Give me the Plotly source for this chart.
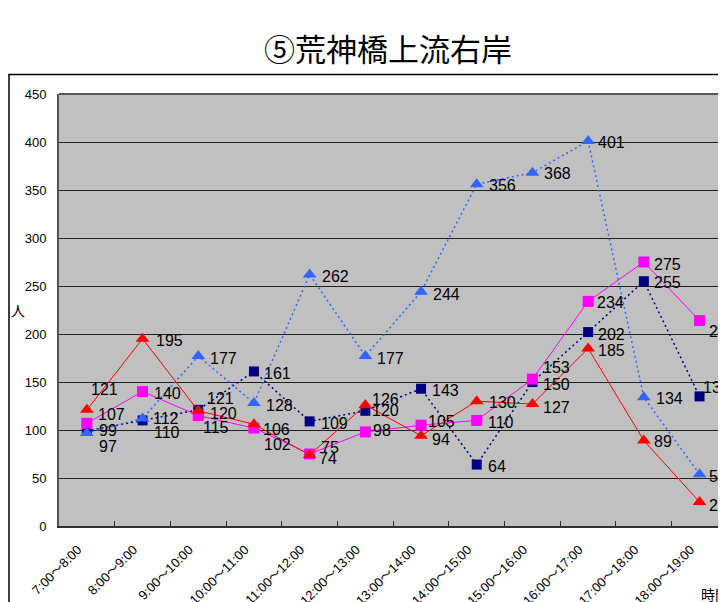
import plotly.graph_objects as go

# ---- data ----
categories = ["7:00～8:00", "8:00～9:00", "9:00～10:00", "10:00～11:00", "11:00～12:00",
              "12:00～13:00", "13:00～14:00", "14:00～15:00", "15:00～16:00",
              "16:00～17:00", "17:00～18:00", "18:00～19:00"]
red_values = [121, 195, 120, 106, 74, 126, 94, 130, 127, 185, 89, 25]
magenta_values = [107, 140, 115, 102, 75, 98, 105, 110, 153, 234, 275, 214]
navy_values = [99, 110, 121, 161, 109, 120, 143, 64, 150, 202, 255, 135]
blue_values = [97, 112, 177, 128, 262, 177, 244, 356, 368, 401, 134, 54]
y_ticks = [0, 50, 100, 150, 200, 250, 300, 350, 400, 450]

# ---- label placement (pixel offsets from each point) ----
red_dx = [3, 12, 11, 8, 8, 6, 10, 11, 10, 9, 9, 8]
red_dy = [-20, 2, 3, 5, 4, -6, 4, 1, 3, 2, 1, 3]
magenta_dx = [10, 10, 4, 9, 10, 7, 6, 10, 10, 8, 9, 8]
magenta_dy = [-9, 2, 12, 16, -7, -1, -4, 2, -12, 1, 2, 11]
navy_dx = [11, 10, 8, 9, 10, 6, 10, 10, 10, 9, 9, 2]
navy_dy = [0, 12, -11, 2, 2, 0, 2, 2, 2, 2, 1, -9]
blue_dx = [11, 9, 11, 11, 11, 11, 11, 11, 11, 9, 11, 8]
blue_dy = [14, 0, 2, 2, 2, 2, 3, 1, 1, 1, 1, 2]

series = [
    # name, values, color, dash, width, symbol, size, dx, dy
    ("navy", navy_values, "#000080", "2px,3px", 1.5, "square", 10, navy_dx, navy_dy),
    ("blue", blue_values, "#3366FF", "2px,3px", 1.5, "triangle-up", 12, blue_dx, blue_dy),
    ("magenta", magenta_values, "#FF00FF", "solid", 1, "square", 11, magenta_dx, magenta_dy),
    ("red", red_values, "#FF0000", "solid", 1, "triangle-up", 12, red_dx, red_dy),
]

fig = go.Figure()
annotations = []
for name, vals, color, dash, lw, sym, ms, dxs, dys in series:
    fig.add_trace(go.Scatter(
        x=categories, y=vals, mode="lines+markers", name=name,
        line=dict(color=color, width=lw, dash=dash),
        marker=dict(symbol=sym, size=ms, color=color, line=dict(width=0)),
        cliponaxis=False, showlegend=False,
    ))
    for i, v in enumerate(vals):
        annotations.append(dict(
            x=categories[i], y=v, xref="x", yref="y", text=str(v), showarrow=False,
            xanchor="left", yanchor="middle", xshift=dxs[i], yshift=-dys[i],
            font=dict(family="Liberation Sans, Arial, sans-serif", size=16, color="black"),
            borderpad=0,
        ))

annotations.append(dict(text="人", xref="paper", yref="paper", x=-0.0615, y=0.5,
                        showarrow=False, xanchor="center", yanchor="middle",
                        font=dict(family="Noto Sans CJK JP", size=14, color="black")))
annotations.append(dict(text="時間", xref="paper", yref="paper", x=0.96, y=-0.158,
                        showarrow=False, xanchor="left", yanchor="middle",
                        font=dict(family="Noto Sans CJK JP", size=14, color="black")))

W, H = 718, 594  # page adds 8px body margin
fig.update_layout(
    width=W, height=H,
    margin=dict(l=51, r=0, t=86, b=H - 86 - 432, autoexpand=False),
    paper_bgcolor="white", plot_bgcolor="#C0C0C0",
    title=dict(text="⑤荒神橋上流右岸", x=380 / W, xanchor="center", y=1 - 42 / H,
               yanchor="middle", xref="container", yref="container",
               font=dict(family="Noto Sans CJK JP", size=31, color="black")),
    annotations=annotations,
    shapes=[dict(type="rect", xref="paper", yref="paper",
                 x0=(9 - 59) / 667, x1=1.2, y0=-0.5, y1=(526 - 74.5) / 432,
                 line=dict(color="black", width=1.5), fillcolor="rgba(0,0,0,0)", layer="below")],
)
fig.update_xaxes(
    type="category", range=[-0.5, 11.475], showgrid=False,
    showline=True, linecolor="#303030", linewidth=2, mirror=False,
    ticks="inside", ticklen=5, tickcolor="#303030", tickson="boundaries",
    tickangle=-45, tickfont=dict(family="Liberation Sans, Noto Sans CJK JP", size=13, color="black"),
    ticklabelstandoff=9, ticklabelshift=-9, zeroline=False, automargin=False,
)
fig.update_yaxes(
    range=[0, 450], tickvals=y_ticks, showgrid=True, gridcolor="#202020", gridwidth=1,
    showline=True, linecolor="#555555", linewidth=2,
    ticks="inside", ticklen=5, tickcolor="#303030",
    tickfont=dict(family="Liberation Sans, Arial", size=13, color="black"),
    ticklabelstandoff=8, zeroline=False, automargin=False,
)
# top border of plot area
fig.add_shape(type="line", xref="paper", yref="paper", x0=0, x1=1, y0=1, y1=1,
              line=dict(color="#555555", width=2))

fig.write_html("out.html")
